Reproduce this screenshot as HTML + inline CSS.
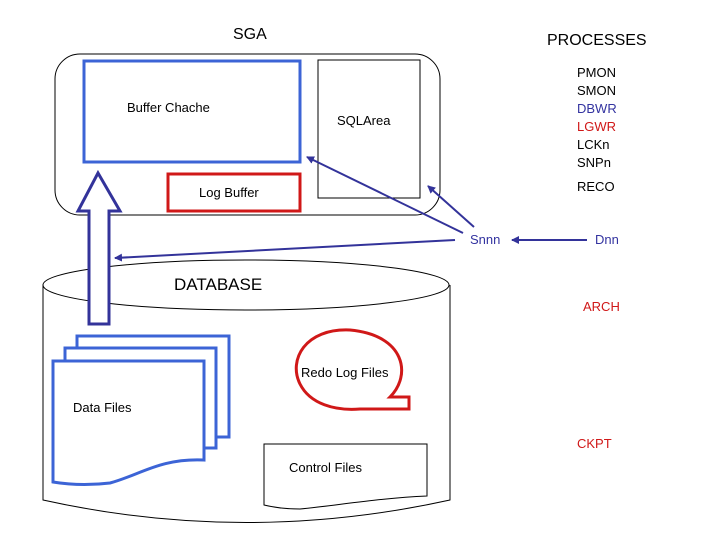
<!DOCTYPE html>
<html><head><style>body{margin:0;background:#fff}svg{display:block}text{font-family:"Liberation Sans",sans-serif}</style></head><body>
<svg width="720" height="540" viewBox="0 0 720 540" xmlns="http://www.w3.org/2000/svg">
<defs><marker id="a" markerWidth="8" markerHeight="8" refX="7" refY="4" orient="auto" markerUnits="userSpaceOnUse"><path d="M0,0 L8,4 L0,8 z" fill="#33339a"/></marker></defs>
<text x="233" y="39" font-size="16">SGA</text>
<text x="547" y="45" font-size="16">PROCESSES</text>
<rect x="55" y="54" width="385" height="161" rx="25" fill="none" stroke="#000" stroke-width="1"/>
<rect x="84" y="61" width="216" height="101" fill="none" stroke="#3c64d6" stroke-width="3"/>
<text x="127" y="112" font-size="13">Buffer Chache</text>
<rect x="318" y="60" width="102" height="138" fill="none" stroke="#000"/>
<text x="337" y="125" font-size="13">SQLArea</text>
<rect x="168" y="174" width="132" height="37" fill="none" stroke="#d01818" stroke-width="3"/>
<text x="199" y="197" font-size="13">Log Buffer</text>
<g font-size="13">
<text x="577" y="77">PMON</text><text x="577" y="95">SMON</text>
<text x="577" y="113" fill="#3333a0">DBWR</text><text x="577" y="131" fill="#d01818">LGWR</text>
<text x="577" y="149">LCKn</text><text x="577" y="167">SNPn</text>
<text x="577" y="191">RECO</text>
<text x="470" y="244" fill="#3333a0">Snnn</text><text x="595" y="244" fill="#3333a0">Dnn</text>
<text x="583" y="311" fill="#d01818">ARCH</text>
<text x="577" y="448" fill="#d01818">CKPT</text>
</g>
<g stroke="#33339a" stroke-width="2" fill="none" marker-end="url(#a)">
<line x1="463" y1="233" x2="307" y2="157"/>
<line x1="474" y1="227" x2="428" y2="186"/>
<line x1="455" y1="240" x2="115" y2="258"/>
<line x1="587" y1="240" x2="512" y2="240"/>
</g>
<path d="M43,285 L43,500 Q246,545 450,500 L450,285" fill="none" stroke="#000"/>
<ellipse cx="246" cy="285" rx="203" ry="25" fill="none" stroke="#000"/>
<text x="174" y="290" font-size="17">DATABASE</text>
<path d="M89,324 L89,211 L78,211 L98,173 L120,211 L109,211 L109,324 Z" fill="#fff" stroke="#33339a" stroke-width="3"/>
<g stroke="#3c64d6" stroke-width="3" fill="#fff">
<path d="M77,336 L229,336 L229,437 L216,437 L216,348 L77,348 Z"/>
<path d="M65,348 L216,348 L216,448 L204,448 L204,361 L65,361 Z"/>
<path d="M53,361 L204,361 L204,460 C160,458 140,475 110,483 C85,486 65,484 53,482 Z"/>
</g>
<text x="73" y="412" font-size="13">Data Files</text>
<path d="M264,444 L427,444 L427,496 C380,498 340,505 300,509 C285,509 272,507 264,505 Z" fill="none" stroke="#000"/>
<text x="289" y="472" font-size="13">Control Files</text>
<path d="M390,397 C412,375 405,335 350,330 C305,328 288,360 300,384 C310,404 335,411 360,409 L409,409 L409,397 Z" fill="none" stroke="#d01818" stroke-width="3"/>
<text x="301" y="377" font-size="13">Redo Log Files</text>
</svg>
</body></html>
